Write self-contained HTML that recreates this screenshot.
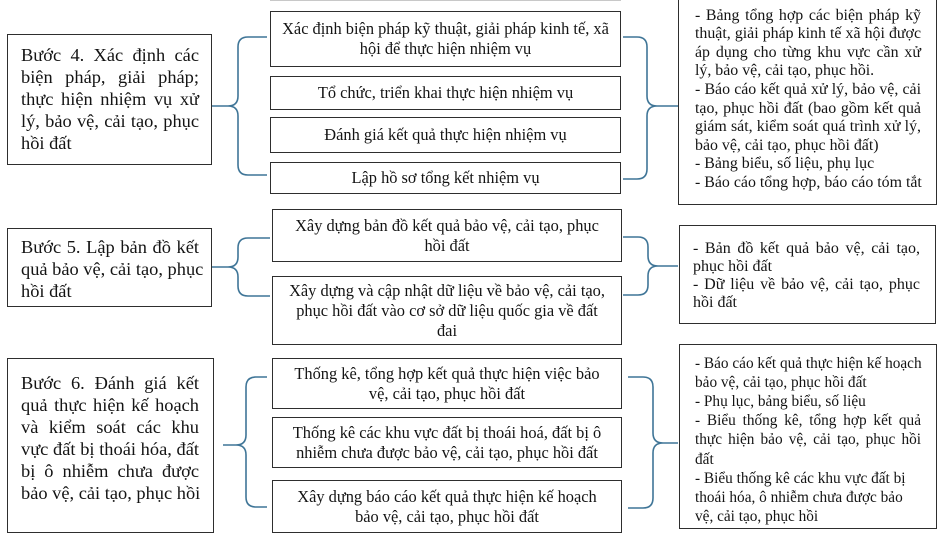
<!DOCTYPE html>
<html>
<head>
<meta charset="utf-8">
<style>
  html, body { margin:0; padding:0; }
  body { width:940px; height:538px; position:relative; overflow:hidden; background:#fff;
         font-family:"Liberation Serif", "Noto Serif CJK SC", serif; color:#141414; }
  .box { position:absolute; box-sizing:border-box; border:1.5px solid #2e2e2e; background:#fff; }
  .mid { display:flex; align-items:center; justify-content:center; text-align:center;
         font-size:16.4px; line-height:20px; white-space:nowrap; }
  .txt { position:absolute; }
  .txt div { white-space:nowrap; }
  .j { text-align:justify; text-align-last:justify; }
  .l { text-align:left; }
  .left { font-size:18.4px; line-height:22px; width:178px; }
</style>
</head>
<body>

<!-- faint top line -->
<div style="position:absolute;left:270px;top:0;width:351px;height:1px;background:#c8c8c8;"></div>

<!-- braces -->
<svg width="940" height="538" style="position:absolute;left:0;top:0;" xmlns="http://www.w3.org/2000/svg">
  <g fill="none" stroke="#3f7597" stroke-width="1.6">
    <path d="M267,37 H248 Q238,37 238,47 V96 Q238,106 228,106 H212 M228,106 Q238,106 238,116 V165 Q238,175 248,175 H267"/>
    <path d="M623,37 H637 Q647,37 647,47 V96 Q647,106 657,106 H678 M657,106 Q647,106 647,116 V169 Q647,179 637,179 H623"/>
    <path d="M270,238 H248 Q238,238 238,248 V257 Q238,267 228,267 H212 M228,267 Q238,267 238,277 V286 Q238,296 248,296 H270"/>
    <path d="M623,237 H638 Q648,237 648,247 V256 Q648,266 658,266 H678 M658,266 Q648,266 648,276 V285 Q648,295 638,295 H623"/>
    <path d="M267,377 H256 Q246,377 246,387 V435 Q246,445 236,445 H223 M236,445 Q246,445 246,455 V497 Q246,507 256,507 H267"/>
    <path d="M628,377 H643 Q653,377 653,387 V433 Q653,443 663,443 H678 M663,443 Q653,443 653,453 V498 Q653,508 643,508 H628"/>
  </g>
</svg>

<!-- LEFT BOXES -->
<div class="box" style="left:7px;top:34px;width:205px;height:131px;"></div>
<div class="txt left" style="left:21px;top:44px;">
  <div class="j">Bước 4. Xác định các</div>
  <div class="j">biện pháp, giải pháp;</div>
  <div class="j">thực hiện nhiệm vụ xử</div>
  <div class="j">lý, bảo vệ, cải tạo, phục</div>
  <div class="l">hồi đất</div>
</div>

<div class="box" style="left:7px;top:228px;width:205px;height:79px;"></div>
<div class="txt left" style="left:21px;top:236px;">
  <div class="j">Bước 5. Lập bản đồ kết</div>
  <div class="j">quả bảo vệ, cải tạo, phục</div>
  <div class="l">hồi đất</div>
</div>

<div class="box" style="left:7px;top:358px;width:207px;height:175px;"></div>
<div class="txt left" style="left:21px;top:372px;">
  <div class="j">Bước 6. Đánh giá kết</div>
  <div class="j">quả thực hiện kế hoạch</div>
  <div class="j">và kiểm soát các khu</div>
  <div class="j">vực đất bị thoái hóa, đất</div>
  <div class="j">bị ô nhiễm chưa được</div>
  <div class="l">bảo vệ, cải tạo, phục hồi</div>
</div>

<!-- MIDDLE BOXES -->
<div class="box mid" style="left:270px;top:11px;width:351px;height:56px;">Xác định biện pháp kỹ thuật, giải pháp kinh tế, xã<br>hội để thực hiện nhiệm vụ</div>
<div class="box mid" style="left:270px;top:76px;width:351px;height:34px;">Tổ chức, triển khai thực hiện nhiệm vụ</div>
<div class="box mid" style="left:270px;top:117px;width:351px;height:36px;">Đánh giá kết quả thực hiện nhiệm vụ</div>
<div class="box mid" style="left:270px;top:162px;width:351px;height:32px;">Lập hồ sơ tổng kết nhiệm vụ</div>

<div class="box mid" style="left:272px;top:209px;width:350px;height:53px;">Xây dựng bản đồ kết quả bảo vệ, cải tạo, phục<br>hồi đất</div>
<div class="box mid" style="left:272px;top:276px;width:350px;height:69px;">Xây dựng và cập nhật dữ liệu về bảo vệ, cải tạo,<br>phục hồi đất vào cơ sở dữ liệu quốc gia về đất<br>đai</div>

<div class="box mid" style="left:272px;top:358px;width:350px;height:51px;">Thống kê, tổng hợp kết quả thực hiện việc bảo<br>vệ, cải tạo, phục hồi đất</div>
<div class="box mid" style="left:272px;top:417px;width:350px;height:51px;">Thống kê các khu vực đất bị thoái hoá, đất bị ô<br>nhiễm chưa được bảo vệ, cải tạo, phục hồi đất</div>
<div class="box mid" style="left:272px;top:480px;width:350px;height:53px;">Xây dựng báo cáo kết quả thực hiện kế hoạch<br>bảo vệ, cải tạo, phục hồi đất</div>

<!-- RIGHT BOXES -->
<div class="box" style="left:678px;top:-3px;width:259px;height:208px;"></div>
<div class="txt" style="left:695px;top:6.7px;width:226px;font-size:15.9px;line-height:18.6px;">
  <div class="j">- Bảng tổng hợp các biện pháp kỹ</div>
  <div class="j">thuật, giải pháp kinh tế xã hội được</div>
  <div class="j">áp dụng cho từng khu vực cần xử</div>
  <div class="l">lý, bảo vệ, cải tạo, phục hồi.</div>
  <div class="j">- Báo cáo kết quả xử lý, bảo vệ, cải</div>
  <div class="j">tạo, phục hồi đất (bao gồm kết quả</div>
  <div class="j">giám sát, kiểm soát quá trình xử lý,</div>
  <div class="l">bảo vệ, cải tạo, phục hồi đất)</div>
  <div class="l">- Bảng biểu, số liệu, phụ lục</div>
  <div class="l">- Báo cáo tổng hợp, báo cáo tóm tắt</div>
</div>

<div class="box" style="left:679px;top:225px;width:257px;height:99px;"></div>
<div class="txt" style="left:693px;top:240px;width:227px;font-size:16px;line-height:18px;">
  <div class="j">- Bản đồ kết quả bảo vệ, cải tạo,</div>
  <div class="l">phục hồi đất</div>
  <div class="j">- Dữ liệu về bảo vệ, cải tạo, phục</div>
  <div class="l">hồi đất</div>
</div>

<div class="box" style="left:679px;top:344px;width:258px;height:185px;"></div>
<div class="txt" style="left:695px;top:353.5px;width:226px;font-size:15.3px;line-height:19.2px;">
  <div class="j">- Báo cáo kết quả thực hiện kế hoạch</div>
  <div class="l">bảo vệ, cải tạo, phục hồi đất</div>
  <div class="l">- Phụ lục, bảng biểu, số liệu</div>
  <div class="j">- Biểu thống kê, tổng hợp kết quả</div>
  <div class="j">thực hiện bảo vệ, cải tạo, phục hồi</div>
  <div class="l">đất</div>
  <div class="l">- Biểu thống kê các khu vực đất bị</div>
  <div class="l">thoái hóa, ô nhiễm chưa được bảo</div>
  <div class="l">vệ, cải tạo, phục hồi</div>
</div>

</body>
</html>
